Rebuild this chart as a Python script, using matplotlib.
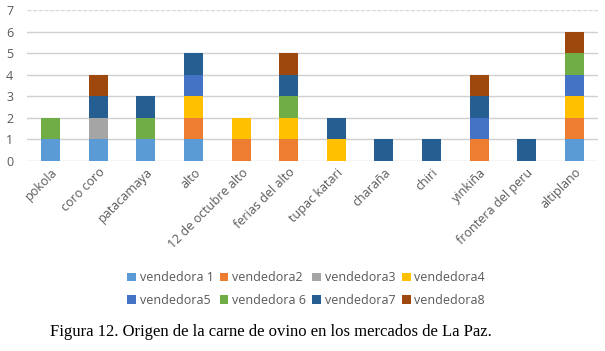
import numpy as np
import matplotlib.pyplot as plt

# mercados (categorias del eje x)
mercados = ["pokola", "coro coro", "patacamaya", "alto", "12 de octubre alto",
            "ferias del alto", "tupac katari", "charaña", "chiri", "yinkiña",
            "frontera del peru", "altiplano"]

# una lista por vendedora, mismo orden que mercados
vendedora1 = [1, 1, 1, 1, 0, 0, 0, 0, 0, 0, 0, 1]
vendedora2 = [0, 0, 0, 1, 1, 1, 0, 0, 0, 1, 0, 1]
vendedora3 = [0, 1, 0, 0, 0, 0, 0, 0, 0, 0, 0, 0]
vendedora4 = [0, 0, 0, 1, 1, 1, 1, 0, 0, 0, 0, 1]
vendedora5 = [0, 0, 0, 1, 0, 0, 0, 0, 0, 1, 0, 1]
vendedora6 = [1, 0, 1, 0, 0, 1, 0, 0, 0, 0, 0, 1]
vendedora7 = [0, 1, 1, 1, 0, 1, 1, 1, 1, 1, 1, 0]
vendedora8 = [0, 1, 0, 0, 0, 1, 0, 0, 0, 1, 0, 1]

series = [vendedora1, vendedora2, vendedora3, vendedora4,
          vendedora5, vendedora6, vendedora7, vendedora8]
nombres = ["vendedora 1", "vendedora2", "vendedora3", "vendedora4",
           "vendedora5", "vendedora 6", "vendedora7", "vendedora8"]
colores = ["#5B9BD5", "#ED7D31", "#A5A5A5", "#FFC000",
           "#4472C4", "#70AD47", "#255E91", "#9E480E"]

plt.rcParams["font.family"] = ["Open Sans", "DejaVu Sans"]

fig = plt.figure(figsize=(6.05, 3.51), dpi=100)
ax = fig.add_axes([27 / 605, 1 - 161 / 351, 571 / 605, 151 / 351])

x = np.arange(len(mercados))
base = np.zeros(len(mercados))
handles = []
for vals, nombre, color in zip(series, nombres, colores):
    vals = np.array(vals, dtype=float)
    h = ax.bar(x, vals, bottom=base, width=0.4, color=color, label=nombre,
               zorder=3)
    handles.append(h)
    base += vals

ax.set_xlim(-0.5, len(mercados) - 0.5)
ax.set_ylim(0, 7)
ax.set_yticks(range(0, 8))
for t in range(0, 7):
    ax.axhline(t, color="#D0D0D0", lw=1, zorder=1)
ax.axhline(7, color="#D8D8D8", lw=1, ls=(0, (3, 1)), zorder=1)

for s in ax.spines.values():
    s.set_visible(False)
ax.tick_params(axis="both", length=0, colors="#595959", labelsize=9)
ax.tick_params(axis="y", pad=10)
ax.set_xticks(x)
ax.set_xticklabels(mercados, rotation=45, ha="right", va="top",
                   rotation_mode="anchor")

# la leyenda se llena por columnas: reordenar para que quede por filas
orden = [0, 4, 1, 5, 2, 6, 3, 7]
fig.legend(handles=[handles[i] for i in orden],
           labels=[nombres[i] for i in orden], ncol=4, loc="center",
           bbox_to_anchor=(306 / 605, 1 - 289 / 351), frameon=False,
           fontsize=9, handlelength=0.7, handleheight=0.7, handletextpad=0.3,
           columnspacing=0.5, labelspacing=0.75, labelcolor="#595959")

fig.text(50 / 605, 1 - 332 / 351,
         "Figura 12. Origen de la carne de ovino en los mercados de La Paz.",
         family="Liberation Serif", fontsize=12, va="center", ha="left")

fig.savefig("out.png", dpi=100)
